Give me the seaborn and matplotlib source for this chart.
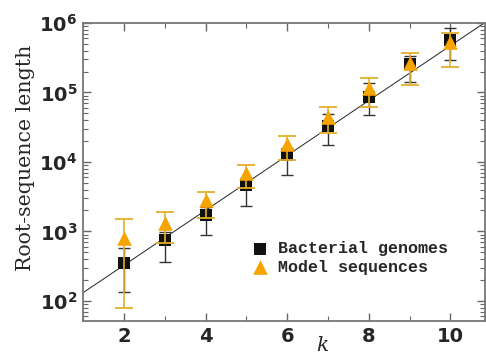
import numpy as np
import pandas as pd
import matplotlib
matplotlib.use("Agg")
import matplotlib.pyplot as plt
import seaborn as sns
from matplotlib.ticker import FixedLocator, FixedFormatter, LogLocator, NullFormatter

# ---- data ----
k = [2, 3, 4, 5, 6, 7, 8, 9, 10]
bact_len = [350, 750, 1730, 4700, 12600, 33000, 87000, 253000, 565000]
bact_hi = [575, 980, 2240, 5900, 15900, 49000, 138000, 340000, 860000]
bact_lo = [134, 360, 890, 2320, 6500, 17700, 48000, 143000, 295000]
model_len = [800, 1320, 2840, 6970, 18200, 45000, 117000, 270000, 525000]
model_hi = [1510, 1900, 3700, 9080, 23800, 62300, 164000, 375000, 730000]
model_lo = [79, 680, 1560, 4230, 10700, 26300, 62300, 129000, 235000]
fit_k = [1.0, 10.85]
fit_len = [131, 1.02e6]
series_names = ["Bacterial genomes", "Model sequences"]
ytick_vals = [1e2, 1e3, 1e4, 1e5, 1e6]
ytick_labels = [r"$\mathbf{10^{2}}$", r"$\mathbf{10^{3}}$", r"$\mathbf{10^{4}}$",
                r"$\mathbf{10^{5}}$", r"$\mathbf{10^{6}}$"]
xtick_vals = [2, 4, 6, 8, 10]

sns.set_style("ticks")
plt.rcParams["mathtext.fontset"] = "dejavusans"

fig = plt.figure(figsize=(4.86, 3.6), dpi=100)
ax = fig.add_axes([0.171, 0.108, 0.827, 0.828])

df_b = pd.DataFrame({"k": k, "len": bact_len, "s": series_names[0]})
df_m = pd.DataFrame({"k": k, "len": model_len, "s": series_names[1]})
df_f = pd.DataFrame({"k": fit_k, "len": fit_len})

black = "#111111"
orange = "#F7A300"
orange_err = "#E3B02A"

sns.lineplot(data=df_f, x="k", y="len", color="#222222", lw=0.7, ax=ax, zorder=1)

b = np.array(bact_len, float)
ax.errorbar(k, b, yerr=[b - np.array(bact_lo), np.array(bact_hi) - b], fmt="none",
            ecolor="#333333", elinewidth=1.0, capsize=4.5, capthick=1.0, zorder=2)
sns.scatterplot(data=df_b, x="k", y="len", marker="s", s=75, color=black,
                edgecolor=black, linewidth=0, ax=ax, zorder=3, label=series_names[0])
m = np.array(model_len, float)
ax.errorbar(k, m, yerr=[m - np.array(model_lo), np.array(model_hi) - m], fmt="none",
            ecolor=orange_err, elinewidth=1.2, capsize=6.5, capthick=1.3, zorder=4)
sns.scatterplot(data=df_m, x="k", y="len", marker="^", s=110, color=orange,
                edgecolor=orange, linewidth=0, ax=ax, zorder=5, label=series_names[1])

ax.set_yscale("log")
ax.set_xlim(1.0, 10.85)
ax.set_ylim(51, 1.0e6)

ax.yaxis.set_major_locator(FixedLocator(ytick_vals))
ax.yaxis.set_major_formatter(FixedFormatter(ytick_labels))
ax.yaxis.set_minor_locator(LogLocator(base=10, subs=np.arange(2, 10), numticks=20))
ax.yaxis.set_minor_formatter(NullFormatter())
ax.xaxis.set_major_locator(FixedLocator(xtick_vals))
ax.xaxis.set_minor_locator(FixedLocator([1, 3, 5, 7, 9]))

ax.tick_params(which="both", direction="in", top=True, right=True, color="#666666")
ax.tick_params(which="major", length=6, width=1.0, labelsize=14, pad=4)
ax.tick_params(which="minor", length=3.5, width=0.8)
for lab in ax.get_xticklabels():
    lab.set_fontweight("bold")
for sp in ax.spines.values():
    sp.set_color("#777777")
    sp.set_linewidth(1.3)

ax.set_ylabel("Root-sequence length", family="DejaVu Serif", fontsize=14.8)
ax.yaxis.set_label_coords(-0.12, 0.547)
ax.set_xlabel("k", family="DejaVu Serif", style="italic", fontsize=14.5)
ax.xaxis.set_label_coords(0.595, -0.05)

leg = ax.legend(loc="upper left", bbox_to_anchor=(0.398, 0.29), frameon=False,
                prop={"family": "Liberation Mono", "weight": "bold", "size": 12},
                handletextpad=0.5, labelspacing=0.2, handlelength=1.2,
                borderaxespad=0)

fig.savefig("out.png", dpi=100)
